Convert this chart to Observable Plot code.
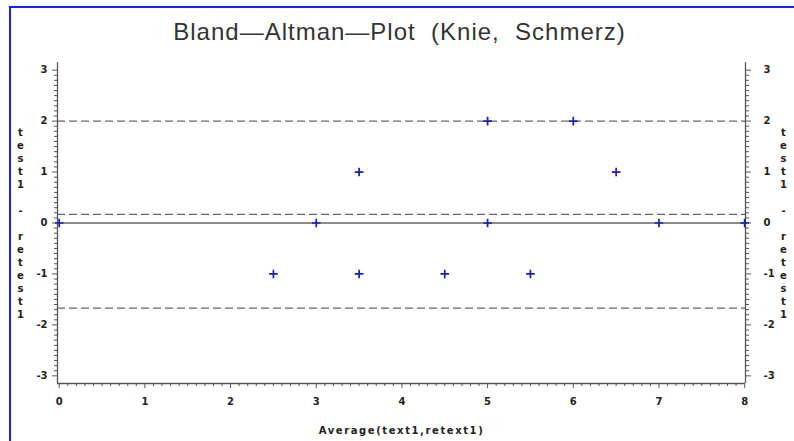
<!DOCTYPE html>
<html>
<head>
<meta charset="utf-8">
<script src="https://cdn.jsdelivr.net/npm/d3@7"></script>
<script src="https://cdn.jsdelivr.net/npm/@observablehq/plot@0.6"></script>
<style>
  html, body { margin: 0; padding: 0; background: #fff; }
  #wrap { position: relative; width: 794px; height: 441px; overflow: hidden; }
  #border { position: absolute; left: 9px; top: 6px; right: -5px; bottom: -5px;
            border-left: 2px solid #1a1aff; border-top: 2px solid #1a1aff; pointer-events: none; }
  svg { display: block; }
</style>
</head>
<body>
<div id="wrap"><div id="border"></div></div>
<script>
// Data
const titleText = "Bland—Altman—Plot  (Knie,  Schmerz)";
const xLabel = "Average(text1,retext1)";
const yLabel = "test1 - retest1";
const avg  = [0, 2.5, 3, 3.5, 3.5, 4.5, 5, 5, 5.5, 6, 6.5, 7, 8];
const diff = [0, -1, 0, 1, -1, -1, 2, 0, -1, 2, 1, 0, 0];
const meanDiff = [0.17];
const limits = [2.0, -1.67];
const zeroLine = [0];
const xTicks = [0, 1, 2, 3, 4, 5, 6, 7, 8];
const yTicks = [-3, -2, -1, 0, 1, 2, 3];

const points = avg.map((a, i) => ({avg: a, diff: diff[i]}));
const xDomain = [-0.02, 8.01];
const yDomain = [-3.15, 3.15];
const xMinor = d3.range(0, 80.5, 1).map(d => d / 10).filter(d => !xTicks.includes(d));
const yMinor = d3.range(-30, 30.5, 1).map(d => d / 10).filter(d => !yTicks.includes(d));
const stacked = yLabel.split("").join("\n");
const intFmt = d => String(d);

const axisColor = "#555";
const textColor = "#222";

const chart = Plot.plot({
  width: 794,
  height: 441,
  marginLeft: 57,
  marginRight: 49,
  marginTop: 62,
  marginBottom: 58,
  style: {fontFamily: "DejaVu Sans", fontSize: "10px", fontWeight: "bold", color: textColor, background: "transparent"},
  x: {domain: xDomain, label: null},
  y: {domain: yDomain, label: null},
  marks: [
    // reference lines
    Plot.ruleY(zeroLine, {stroke: "#666", strokeWidth: 1.3}),
    Plot.ruleY(meanDiff, {stroke: "#666", strokeWidth: 1.3, strokeDasharray: "8,4"}),
    Plot.ruleY(limits, {stroke: "#666", strokeWidth: 1.3, strokeDasharray: "8,4"}),
    // axis lines
    Plot.ruleX([xDomain[0], xDomain[1]], {stroke: axisColor, strokeWidth: 1.3}),
    Plot.ruleY([yDomain[0]], {stroke: axisColor, strokeWidth: 1.3}),
    // x axis
    Plot.axisX({ticks: xTicks, tickFormat: intFmt, tickSize: 5, tickPadding: 9, stroke: axisColor, fill: textColor, label: null}),
    Plot.axisX({ticks: xMinor, tickSize: 3, text: null, stroke: axisColor, label: null}),
    // y axes
    Plot.axisY({anchor: "left", ticks: yTicks, tickFormat: intFmt, tickSize: 5, tickPadding: 5, stroke: axisColor, fill: textColor, label: null}),
    Plot.axisY({anchor: "left", ticks: yMinor, tickSize: 3, text: null, stroke: axisColor, label: null}),
    Plot.axisY({anchor: "right", ticks: yTicks, tickFormat: intFmt, tickSize: 5, tickPadding: 13, stroke: axisColor, fill: textColor, label: null}),
    Plot.axisY({anchor: "right", ticks: yMinor, tickSize: 3, text: null, stroke: axisColor, label: null}),
    // points
    Plot.dot(points, {x: "avg", y: "diff", symbol: "plus", r: 2.9, stroke: "#1c1cb4", strokeWidth: 1.7}),
    // title
    Plot.text([titleText], {frameAnchor: "top", dx: -2, dy: -30, lineAnchor: "middle",
      fontFamily: "Liberation Sans", fontSize: 24, fontWeight: "normal", fill: "#333"}),
    // x axis label
    Plot.text([xLabel], {frameAnchor: "bottom", dx: 0, dy: 47, lineAnchor: "middle",
      fontSize: 10, fill: textColor}),
    // stacked y labels
    Plot.text([stacked], {frameAnchor: "left", dx: -37, lineAnchor: "middle", lineHeight: 1.3,
      fontSize: 10, fill: textColor, textAnchor: "middle"}),
    Plot.text([stacked], {frameAnchor: "right", dx: 38, lineAnchor: "middle", lineHeight: 1.3,
      fontSize: 10, fill: textColor, textAnchor: "middle"})
  ]
});

d3.select(chart).selectAll("text").each(function() {
  const t = this.textContent;
  if (t === xLabel) d3.select(this).style("letter-spacing", "1.6px");
  if (t === titleText) d3.select(this).style("letter-spacing", "1px");
});
document.getElementById("wrap").prepend(chart);
</script>
</body>
</html>
